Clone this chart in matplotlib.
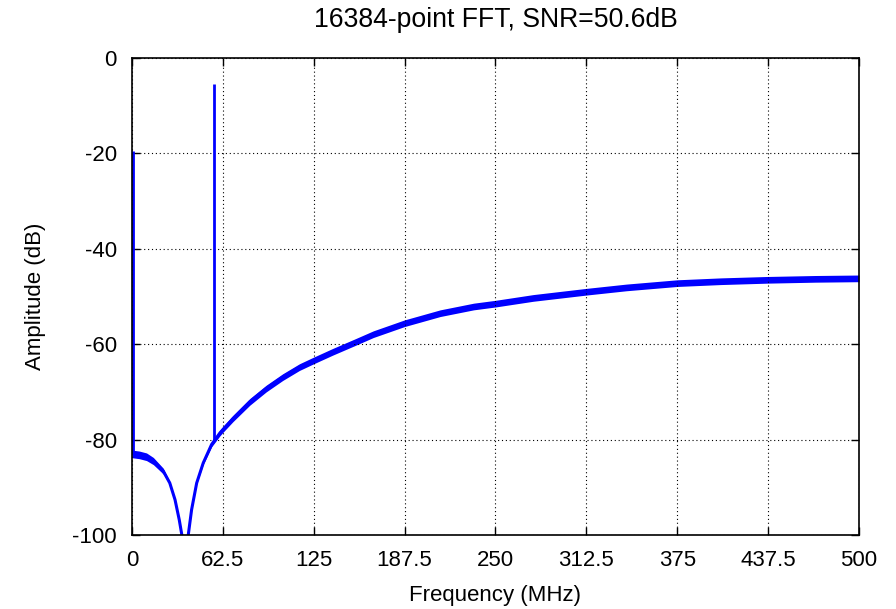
import matplotlib
matplotlib.use("Agg")
import matplotlib.pyplot as plt
import numpy as np

# spectrum envelope (MHz, dB)
freq = [0, 5, 10, 14.7, 21.5, 26, 29.6, 32.5, 34.3, 36.5, 38.7, 41, 44.5, 49,
        54.8, 60.5, 62.5, 69.4, 81, 92.3, 103.7, 115.2, 125, 138, 154, 166,
        187.5, 212, 235, 250, 276, 312.5, 340, 375, 405, 437.5, 470, 500]
amp = [-83, -83.2, -83.6, -84.5, -86.6, -89.1, -92.6, -96.8, -100, -112, -100,
       -94.7, -89.1, -84.9, -81, -78.6, -77.9, -75.6, -72.1, -69.3, -66.9,
       -64.8, -63.4, -61.6, -59.5, -57.9, -55.6, -53.5, -52.1, -51.5, -50.3,
       -49.0, -48.1, -47.2, -46.8, -46.5, -46.3, -46.2]
# half width of the noise band (dB)
spread = [0.8, 0.8, 0.8, 0.75, 0.6, 0.3, 0.15, 0.1, 0.1, 0.1, 0.1, 0.1, 0.15, 0.3,
          0.5, 0.6, 0.6, 0.65, 0.7, 0.7, 0.7, 0.7, 0.7, 0.7, 0.7, 0.7, 0.7, 0.7,
          0.7, 0.7, 0.7, 0.7, 0.7, 0.7, 0.7, 0.7, 0.7, 0.7]

# DC bin and the input tone
spike_freq = [0.5, 56.4]
spike_base = [-83, -80]
spike_top = [-19.6, -5.4]

xticks = [0, 62.5, 125, 187.5, 250, 312.5, 375, 437.5, 500]
xticklabels = ["0", "62.5", "125", "187.5", "250", "312.5", "375", "437.5", "500"]
yticks = [0, -20, -40, -60, -80, -100]

plt.rcParams['font.family'] = ['Liberation Sans', 'DejaVu Sans']
plt.rcParams['font.size'] = 16
plt.rcParams['axes.unicode_minus'] = False

fig = plt.figure(figsize=(8.96, 6.09), dpi=100)
ax = fig.add_axes([0.1473, 0.1215, 0.8114, 0.7833])

f = np.array(freq)
a = np.array(amp)
s = np.array(spread)
ax.fill_between(f, a - s, a + s, color='#0000ff', lw=0)
ax.plot(f, a, color='#0000ff', lw=2.2)
ax.vlines(spike_freq, spike_base, spike_top, color='#0000ff', lw=2)

ax.set_xlim(0, 500)
ax.set_ylim(-100, 0)
ax.set_xticks(xticks)
ax.set_xticklabels(xticklabels)
ax.set_yticks(yticks)
ax.grid(True, color='black', linestyle=(0, (1, 2.5)), lw=0.8)
ax.tick_params(direction='in', length=6, width=1, top=True, right=True, pad=11)
for sp in ax.spines.values():
    sp.set_linewidth(1.2)

ax.set_title('16384-point FFT, SNR=50.6dB', pad=22)
ax.set_xlabel('Frequency (MHz)', labelpad=10)
ax.set_ylabel('Amplitude (dB)', labelpad=19)

fig.savefig("out.png", dpi=100)
